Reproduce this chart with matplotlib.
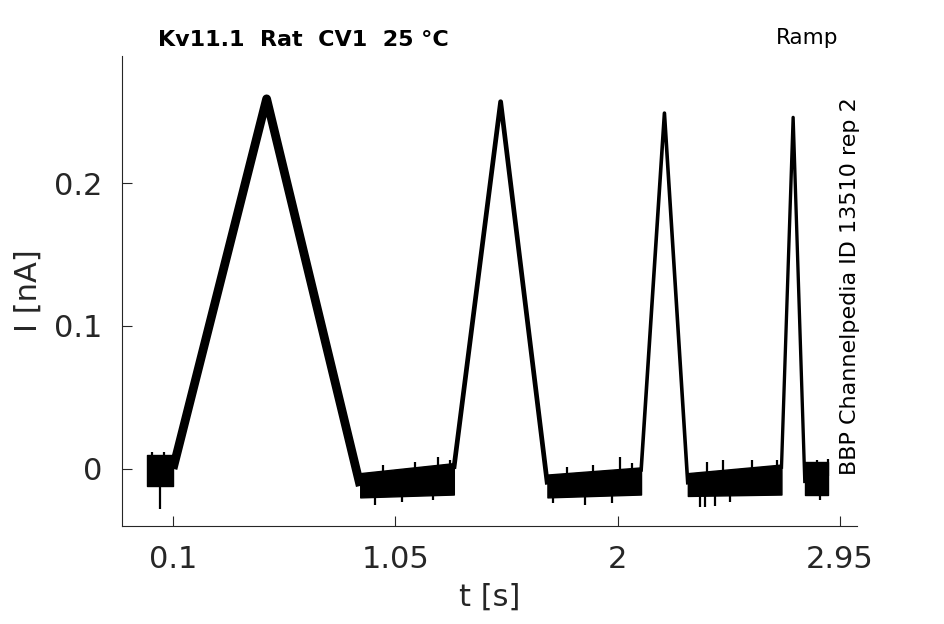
import numpy as np
import matplotlib
matplotlib.use("Agg")
from matplotlib import pyplot as plt

# ramp sweeps: start, apex, end time [s] and apex current [nA]
ramp_start = [0.1, 1.3, 2.1, 2.7]
ramp_peak_t = [0.5, 1.5, 2.2, 2.75]
ramp_end = [0.9, 1.7, 2.3, 2.8]
ramp_peak_i = [0.259, 0.257, 0.249, 0.246]
ramp_from_i = [0.0, 0.0, -0.002, 0.0]
ramp_to_i = [-0.012, -0.011, -0.011, -0.010]

# holding segments between ramps: time span and noise band (start / end) [nA]
base_t0 = [-0.01, 0.9, 1.7, 2.3, 2.8]
base_t1 = [0.1, 1.3, 2.1, 2.7, 2.9]
base_lo0 = [-0.012, -0.020, -0.020, -0.019, -0.018]
base_lo1 = [-0.012, -0.018, -0.018, -0.018, -0.018]
base_hi0 = [0.010, -0.003, -0.004, -0.003, 0.005]
base_hi1 = [0.010, 0.004, 0.001, 0.003, 0.005]

# larger noise excursions above / below the band
spike_up_t = [0.01, 0.06, 0.997, 1.134, 1.232, 1.284, 1.784, 1.895, 2.01, 2.06,
              2.382, 2.45, 2.574, 2.68, 2.852, 2.90]
spike_up_i = [0.012, 0.012, 0.003, 0.005, 0.008, 0.006, 0.001, 0.003, 0.008, 0.004,
              0.005, 0.006, 0.006, 0.006, 0.006, 0.007]
spike_dn_t = [0.044, 0.963, 1.079, 1.211, 1.724, 1.86, 1.976, 2.352, 2.373, 2.416,
              2.48, 2.865]
spike_dn_i = [-0.028, -0.025, -0.023, -0.022, -0.024, -0.025, -0.024, -0.027, -0.027,
              -0.026, -0.023, -0.022]

xticks = [0.1, 1.05, 2, 2.95]
xtick_labels = ["0.1", "1.05", "2", "2.95"]
yticks = [0, 0.1, 0.2]
ytick_labels = ["0", "0.1", "0.2"]

dark = "#262626"
fig = plt.figure(figsize=(9.45, 6.24), dpi=100)
ax = fig.add_axes([0.1291, 0.1571, 0.7778, 0.7532])

widths = [6.3, 3.4, 2.6, 2.4]
for k in range(len(ramp_start)):
    ax.plot([ramp_start[k], ramp_peak_t[k], ramp_end[k]],
            [ramp_from_i[k], ramp_peak_i[k], ramp_to_i[k]],
            color="black", lw=widths[k], solid_joinstyle="round", solid_capstyle="butt")

for k in range(len(base_t0)):
    ax.fill_between([base_t0[k], base_t1[k]], [base_lo0[k], base_lo1[k]],
                    [base_hi0[k], base_hi1[k]], color="black", lw=1.0, edgecolor="black")

ax.vlines(spike_up_t, -0.005, spike_up_i, color="black", lw=1.6)
ax.vlines(spike_dn_t, -0.010, spike_dn_i, color="black", lw=1.6)

ax.set_xlim(-0.118, 3.023)
ax.set_ylim(-0.040, 0.289)
ax.set_xticks(xticks)
ax.set_xticklabels(xtick_labels)
ax.set_yticks(yticks)
ax.set_yticklabels(ytick_labels)
ax.tick_params(direction="in", length=7, width=0.8, colors=dark, labelsize=22, pad=14)
for s in ["top", "right"]:
    ax.spines[s].set_visible(False)
for s in ["left", "bottom"]:
    ax.spines[s].set_color(dark)
    ax.spines[s].set_linewidth(0.8)

ax.set_xlabel("t [s]", fontsize=22, color=dark, labelpad=6)
ax.set_ylabel("I [nA]", fontsize=22, color=dark, labelpad=8)

fig.text(158 / 945, 1 - 40 / 624, "Kv11.1  Rat  CV1  25 °C", fontsize=16,
         fontweight="bold", ha="left", va="center")
fig.text(838 / 945, 1 - 38 / 624, "Ramp", fontsize=15.5, ha="right", va="center")
fig.text(850 / 945, 1 - 286 / 624, "BBP Channelpedia ID 13510 rep 2", fontsize=16,
         rotation=90, ha="center", va="center")

fig.savefig("out.png", dpi=100)
